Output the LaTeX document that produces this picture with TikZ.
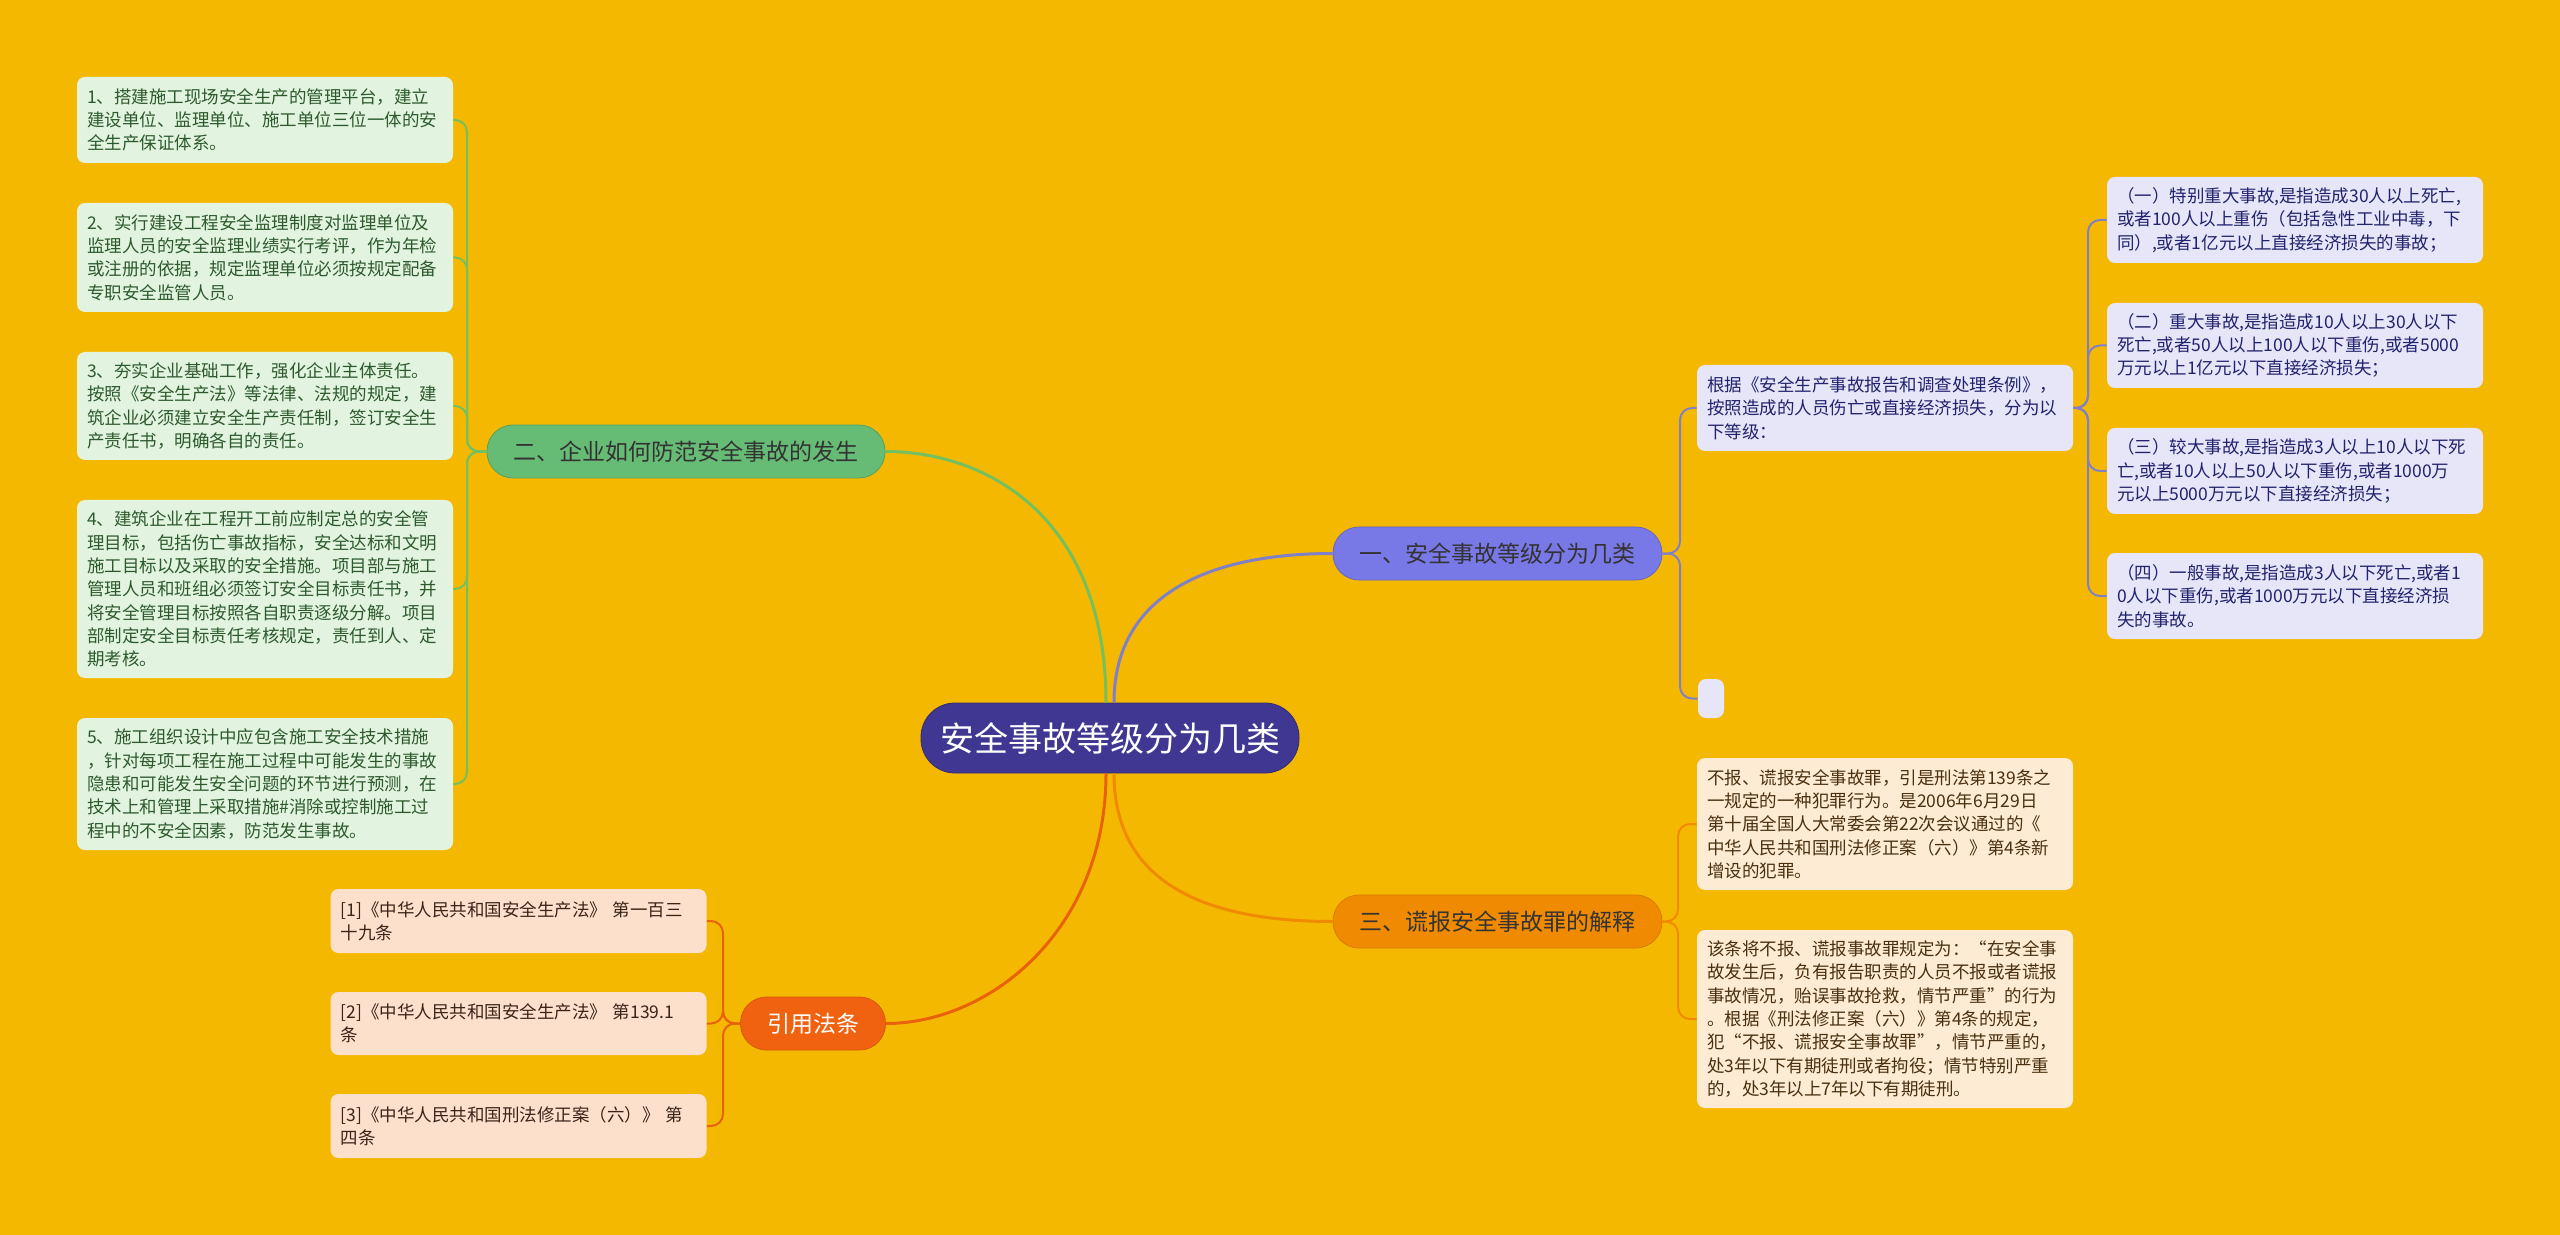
\documentclass[tikz,border=0pt]{standalone}
\usepackage{fontspec}
\setmainfont{Noto Sans CJK SC}
\definecolor{bg}{HTML}{F5B800}
\definecolor{rootc}{HTML}{3F3791}
\definecolor{bonec}{HTML}{7878E6}
\definecolor{btwoc}{HTML}{66BC74}
\definecolor{bthreec}{HTML}{F08A00}
\definecolor{bfourc}{HTML}{F0620F}
\definecolor{gleaf}{HTML}{E2F3E0}
\definecolor{gtext}{HTML}{2D5A2D}
\definecolor{pleaf}{HTML}{E6E6F8}
\definecolor{ptext}{HTML}{22226E}
\definecolor{oleaf}{HTML}{FDEBD3}
\definecolor{otext}{HTML}{4A3010}
\definecolor{rleaf}{HTML}{FDE0CC}
\definecolor{rtext}{HTML}{3A2418}
\definecolor{gline}{HTML}{74C060}
\definecolor{pline}{HTML}{8080C8}
\definecolor{oline}{HTML}{F08A00}
\definecolor{rline}{HTML}{E8620C}
\tikzset{
  leafbox/.style={rounded corners=4pt, inner xsep=5pt, inner ysep=0pt,
    text width=178pt, align=left, anchor=center,
    font=\fontsize{8.75pt}{11.65pt}\selectfont},
  branchbox/.style={rounded corners=13pt, minimum height=26.5pt, inner sep=0pt,
    font=\fontsize{11.5pt}{13pt}\selectfont, anchor=center},
  thick line/.style={line width=1.5pt},
  thin line/.style={line width=1pt, rounded corners=6pt},
}
\begin{document}
\begin{tikzpicture}[x=0.5pt,y=-0.5pt]
\path[fill=bg,use as bounding box] (0,0) rectangle (2560,1235);

% root
\node[rounded corners=17pt, minimum width=189pt, minimum height=35pt, inner sep=0pt,
  fill=rootc, draw=rootc!80!black, line width=0.4pt, text=white,
  font=\fontsize{17pt}{20pt}\selectfont] (root) at (1110,738) {安全事故等级分为几类};

% branches
\node[branchbox, minimum width=164.5pt, fill=bonec, draw=bonec!85!black, line width=0.4pt, text=black!80] (b1) at (1497.5,553.5) {一、安全事故等级分为几类};
\node[branchbox, minimum width=199pt, fill=btwoc, draw=btwoc!85!black, line width=0.4pt, text=black!80] (b2) at (686,451.5) {二、企业如何防范安全事故的发生};
\node[branchbox, minimum width=164.5pt, fill=bthreec, draw=bthreec!90!black, line width=0.4pt, text=black!80] (b3) at (1497.5,921.5) {三、谎报安全事故罪的解释};
\node[branchbox, minimum width=72.5pt, fill=bfourc, draw=bfourc!90!black, line width=0.4pt, text=white] (b4) at (813,1023.5) {引用法条};

% main connectors
\draw[thick line, gline] ([xshift=-2pt]root.north) .. controls (1106,520) and (990,451.5) .. (b2.east);
\draw[thick line, pline] ([xshift=2pt]root.north) .. controls (1114,600) and (1200,553.5) .. (b1.west);
\draw[thick line, oline] ([xshift=2pt]root.south) .. controls (1114,880) and (1200,921.5) .. (b3.west);
\draw[thick line, rline] ([xshift=-2pt]root.south) .. controls (1106,930) and (990,1023.5) .. (b4.east);

% left green leaves
\node[leafbox, fill=gleaf, text=gtext, minimum height=43pt] (g1) at (265,120) {1、搭建施工现场安全生产的管理平台，建立\\建设单位、监理单位、施工单位三位一体的安\\全生产保证体系。};
\node[leafbox, fill=gleaf, text=gtext, minimum height=54.5pt] (g2) at (265,257.5) {2、实行建设工程安全监理制度对监理单位及\\监理人员的安全监理业绩实行考评，作为年检\\或注册的依据，规定监理单位必须按规定配备\\专职安全监管人员。};
\node[leafbox, fill=gleaf, text=gtext, minimum height=54pt] (g3) at (265,406) {3、夯实企业基础工作，强化企业主体责任。\\按照《安全生产法》等法律、法规的规定，建\\筑企业必须建立安全生产责任制，签订安全生\\产责任书，明确各自的责任。};
\node[leafbox, fill=gleaf, text=gtext, minimum height=89pt] (g4) at (265,589) {4、建筑企业在工程开工前应制定总的安全管\\理目标，包括伤亡事故指标，安全达标和文明\\施工目标以及采取的安全措施。项目部与施工\\管理人员和班组必须签订安全目标责任书，并\\将安全管理目标按照各自职责逐级分解。项目\\部制定安全目标责任考核规定，责任到人、定\\期考核。};
\node[leafbox, fill=gleaf, text=gtext, minimum height=66pt] (g5) at (265,784) {5、施工组织设计中应包含施工安全技术措施\\，针对每项工程在施工过程中可能发生的事故\\隐患和可能发生安全问题的环节进行预测，在\\技术上和管理上采取措施\#消除或控制施工过\\程中的不安全因素，防范发生事故。};
\coordinate (sg) at (467,451.5);
\foreach \n in {g1,g2,g3,g4,g5}
  \draw[thin line, gline] (b2.west) -- (sg) |- (\n.east);

% branch 4 leaves
\node[leafbox, fill=rleaf, text=rtext, minimum height=32pt] (r1) at (518.5,921) {[1]《中华人民共和国安全生产法》 第一百三\\十九条};
\node[leafbox, fill=rleaf, text=rtext, minimum height=31.5pt] (r2) at (518.5,1023.5) {[2]《中华人民共和国安全生产法》 第139.1\\条};
\node[leafbox, fill=rleaf, text=rtext, minimum height=32pt] (r3) at (518.5,1126) {[3]《中华人民共和国刑法修正案（六）》 第\\四条};
\coordinate (sr) at (723,1023.5);
\foreach \n in {r1,r2,r3}
  \draw[thin line, rline] (b4.west) -- (sr) |- (\n.east);

% branch 1 leaves
\node[leafbox, fill=pleaf, text=ptext, minimum height=43pt] (p0) at (1885,408) {根据《安全生产事故报告和调查处理条例》，\\按照造成的人员伤亡或直接经济损失，分为以\\下等级：};
\node[rounded corners=4pt, fill=pleaf, minimum width=13pt, minimum height=19.5pt, inner sep=0pt] (pe) at (1711,698.5) {};
\coordinate (sp) at (1680,553.5);
\foreach \n in {p0,pe}
  \draw[thin line, pline] (b1.east) -- (sp) |- (\n.west);

\node[leafbox, fill=pleaf, text=ptext, minimum height=43pt] (q1) at (2295,220) {（一）特别重大事故,是指造成30人以上死亡,\\或者100人以上重伤（包括急性工业中毒，下\\同）,或者1亿元以上直接经济损失的事故；};
\node[leafbox, fill=pleaf, text=ptext, minimum height=42.5pt] (q2) at (2295,345.5) {（二）重大事故,是指造成10人以上30人以下\\死亡,或者50人以上100人以下重伤,或者5000\\万元以上1亿元以下直接经济损失；};
\node[leafbox, fill=pleaf, text=ptext, minimum height=43pt] (q3) at (2295,471) {（三）较大事故,是指造成3人以上10人以下死\\亡,或者10人以上50人以下重伤,或者1000万\\元以上5000万元以下直接经济损失；};
\node[leafbox, fill=pleaf, text=ptext, minimum height=43pt] (q4) at (2295,596) {（四）一般事故,是指造成3人以下死亡,或者1\\0人以下重伤,或者1000万元以下直接经济损\\失的事故。};
\coordinate (sq) at (2088,408);
\foreach \n in {q1,q2,q3,q4}
  \draw[thin line, pline] (p0.east) -- (sq) |- (\n.west);

% branch 3 leaves
\node[leafbox, fill=oleaf, text=otext, minimum height=66pt] (o1) at (1885,824) {不报、谎报安全事故罪，引是刑法第139条之\\一规定的一种犯罪行为。是2006年6月29日\\第十届全国人大常委会第22次会议通过的《\\中华人民共和国刑法修正案（六）》第4条新\\增设的犯罪。};
\node[leafbox, fill=oleaf, text=otext, minimum height=89pt] (o2) at (1885,1019) {该条将不报、谎报事故罪规定为：“在安全事\\故发生后，负有报告职责的人员不报或者谎报\\事故情况，贻误事故抢救，情节严重”的行为\\。根据《刑法修正案（六）》第4条的规定，\\犯“不报、谎报安全事故罪”，情节严重的，\\处3年以下有期徒刑或者拘役；情节特别严重\\的，处3年以上7年以下有期徒刑。};
\coordinate (so) at (1678,921.5);
\foreach \n in {o1,o2}
  \draw[thin line, oline] (b3.east) -- (so) |- (\n.west);
\end{tikzpicture}
\end{document}
